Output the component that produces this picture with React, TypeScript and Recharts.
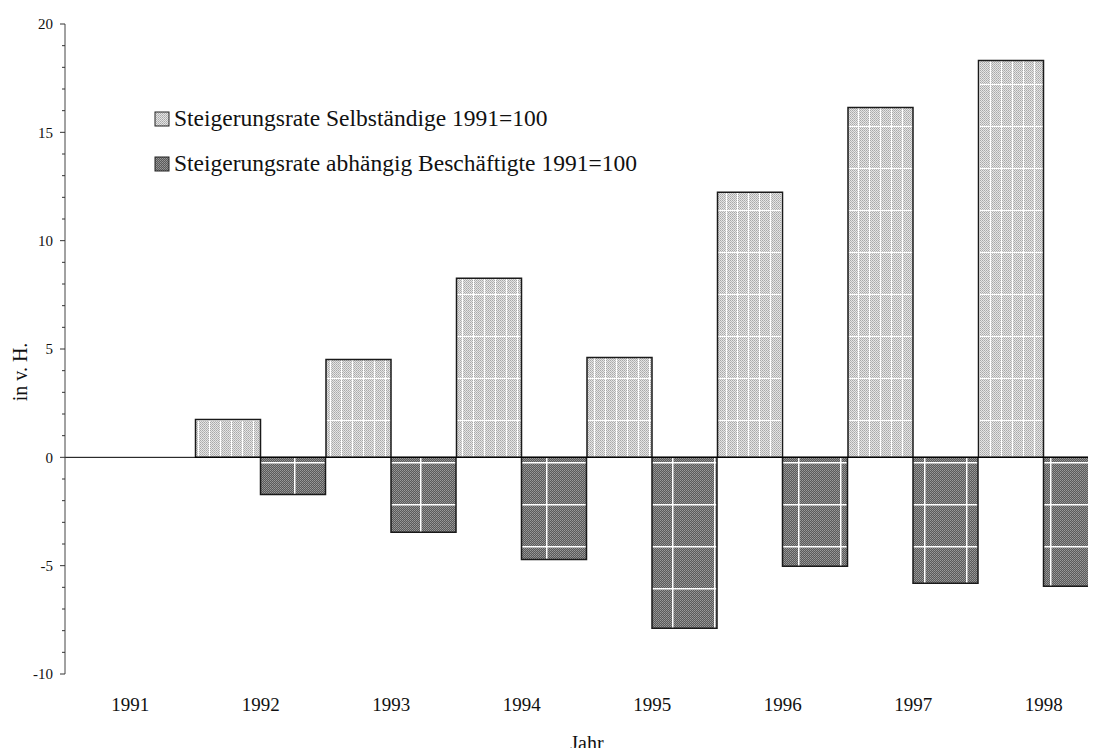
import { BarChart, Bar, XAxis, YAxis, ReferenceLine, Legend } from 'recharts';

const years = ['1991', '1992', '1993', '1994', '1995', '1996', '1997', '1998'];
const selbstaendige = [0, 1.75, 4.52, 8.26, 4.61, 12.23, 16.15, 18.32];
const abhaengig = [0, -1.71, -3.46, -4.71, -7.89, -5.03, -5.81, -5.95];
const majorTicks = [-10, -5, 0, 5, 10, 15, 20];
const seriesNames = [
  'Steigerungsrate Selbständige 1991=100',
  'Steigerungsrate abhängig Beschäftigte 1991=100',
];

const FONT = '"Liberation Serif", "Times New Roman", serif';

const data = years.map((year, i) => ({
  year,
  selb: selbstaendige[i],
  abh: abhaengig[i],
}));

// every integer gets a small tick, labels only on the majors
const yTicks = Array.from({ length: 31 }, (_, i) => i - 10);

function YTick(props: any) {
  const { x, y, payload } = props;
  const v = payload.value;
  const major = majorTicks.includes(v);
  return (
    <g>
      <line x1={x - (major ? 5 : 3)} x2={x} y1={y} y2={y} stroke="#333" strokeWidth={1} />
      {major && (
        <text x={x - 12} y={y} dy="0.35em" textAnchor="end" fontSize={15} fontFamily={FONT} fill="#111">
          {v}
        </text>
      )}
    </g>
  );
}

function YLabel(props: any) {
  const { viewBox } = props;
  const x = viewBox.x + 27;
  const y = viewBox.y + viewBox.height / 2 + 23;
  return (
    <text x={x} y={y} transform={`rotate(-90, ${x}, ${y})`} textAnchor="middle" fontSize={20} fontFamily={FONT} fill="#111">
      in v. H.
    </text>
  );
}

function renderLegend() {
  const fills = ['url(#chkLight)', 'url(#chkDark)'];
  return (
    <div style={{ fontFamily: FONT, fontSize: 23.5, lineHeight: '45px', color: '#111' }}>
      {seriesNames.map((name, i) => (
        <div key={name} style={{ display: 'flex', alignItems: 'center', height: 45 }}>
          <svg width={16} height={16} style={{ marginRight: 4 }}>
            <rect x={1} y={1} width={14} height={14} fill={fills[i]} stroke="#222" strokeWidth={1} />
          </svg>
          <span>{name}</span>
        </div>
      ))}
    </div>
  );
}

export default function App() {
  return (
    <div style={{ margin: -8, width: 1096, height: 756, overflow: 'hidden', position: 'relative', background: '#fff' }}>
      <BarChart
        width={1120}
        height={756}
        data={data}
        margin={{ top: 24, right: 11, bottom: 0, left: 0 }}
        barCategoryGap={0}
        barGap={0}
      >
        <defs>
          <pattern id="chkLight" width={2} height={2} patternUnits="userSpaceOnUse">
            <rect width={2} height={2} fill="#e4e4e4" />
            <rect width={1} height={1} fill="#a8a8a8" />
            <rect x={1} y={1} width={1} height={1} fill="#b8b8b8" />
          </pattern>
          <pattern id="chkDark" width={2} height={2} patternUnits="userSpaceOnUse">
            <rect width={2} height={2} fill="#5a5a5a" />
            <rect width={1} height={1} fill="#9a9a9a" />
            <rect x={1} y={1} width={1} height={1} fill="#8a8a8a" />
          </pattern>
          <pattern id="patSelb" width={22} height={42} patternUnits="userSpaceOnUse">
            <rect width={22} height={42} fill="url(#chkLight)" />
            <rect x={0} width={1} height={42} fill="#fff" />
            <rect x={11} width={1} height={42} fill="#fff" />
            <rect y={0} width={22} height={1} fill="#fff" />
          </pattern>
          <pattern id="patAbh" width={42} height={42} patternUnits="userSpaceOnUse">
            <rect width={42} height={42} fill="url(#chkDark)" />
            <rect x={0} width={1.5} height={42} fill="#fff" />
            <rect y={0} width={42} height={1.5} fill="#fff" />
          </pattern>
        </defs>
        <XAxis
          dataKey="year"
          height={82}
          axisLine={false}
          tickLine={false}
          tickSize={0}
          tickMargin={24}
          tick={{ fontSize: 19, fontFamily: FONT, fill: '#111' }}
          label={{ value: 'Jahr', position: 'insideBottom', offset: 6, fontSize: 20, fontFamily: FONT, fill: '#111' }}
        />
        <YAxis
          width={65}
          domain={[-10, 20]}
          ticks={yTicks}
          interval={0}
          tickSize={0}
          tickMargin={0}
          tickLine={false}
          tick={<YTick />}
          axisLine={{ stroke: '#444', strokeWidth: 1 }}
          label={<YLabel />}
        />
        <Legend
          content={renderLegend}
          layout="vertical"
          align="center"
          verticalAlign="middle"
          wrapperStyle={{ left: 154, top: 96, width: 600, height: 90 }}
        />
        <Bar dataKey="selb" name={seriesNames[0]} fill="url(#patSelb)" stroke="#1a1a1a" strokeWidth={1.5} isAnimationActive={false} />
        <Bar dataKey="abh" name={seriesNames[1]} fill="url(#patAbh)" stroke="#1a1a1a" strokeWidth={1.5} isAnimationActive={false} />
        <ReferenceLine y={0} stroke="#000" strokeWidth={1} />
      </BarChart>
    </div>
  );
}
